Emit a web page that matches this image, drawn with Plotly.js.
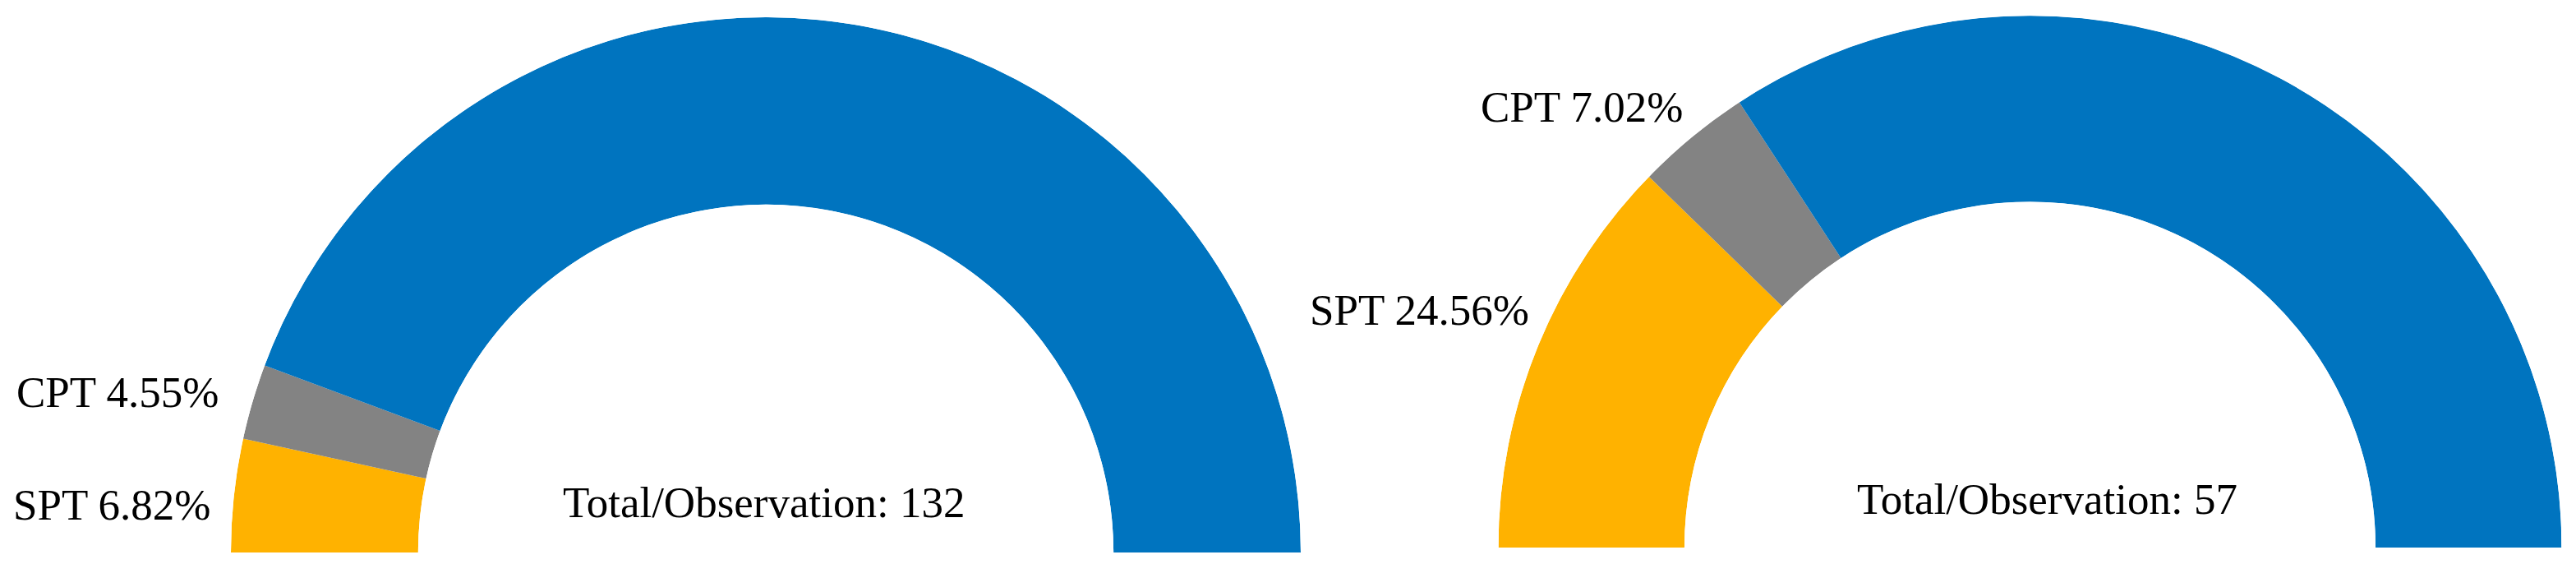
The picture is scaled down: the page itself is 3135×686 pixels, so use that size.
<!DOCTYPE html>
<html>
<head>
<meta charset="utf-8">
<script src="https://cdn.plot.ly/plotly-3.0.1.min.js"></script>
<style>
  html, body { margin: 0; padding: 0; background: #fff; }
  #chart { width: 3135px; height: 686px; }
</style>
</head>
<body>
<div id="chart"></div>
<script>
// ---- data ----
const categories = ["SPT", "CPT", "Other"];
const leftValues = [6.82, 4.55, 88.63];
const rightValues = [24.56, 7.02, 68.42];
const leftTotal = 132;
const rightTotal = 57;
const totalLabel = "Total/Observation: ";

// ---- style ----
const colors = ["#FFB200", "#838383", "#0074BF"];
const W = 3135, H = 686;
const FONT = { family: "Liberation Serif, 'Times New Roman', serif", size: 53, color: "#000" };

function halfDonut(values, subplot) {
  const theta = [], width = [];
  let start = 0;
  values.forEach(v => {
    const w = v * 180 / 100;
    theta.push(start + w / 2);
    width.push(w);
    start += w;
  });
  return {
    type: "barpolar",
    subplot: subplot,
    r: values.map(() => 1),
    theta: theta,
    width: width,
    text: categories,
    marker: { color: colors, line: { width: 0 } },
    hoverinfo: "text",
    showlegend: false
  };
}

function polarLayout(x0, x1, yTop, yBottom) {
  return {
    domain: { x: [x0 / W, x1 / W], y: [(H - yBottom) / H, (H - yTop) / H] },
    sector: [0, 180],
    hole: 0.65,
    bgcolor: "rgba(0,0,0,0)",
    radialaxis: { visible: false, range: [0, 1], showgrid: false, showline: false, showticklabels: false, ticks: "" },
    angularaxis: { visible: false, rotation: 180, direction: "clockwise", showgrid: false, showline: false, showticklabels: false, ticks: "" }
  };
}

function label(text, xpx, ypx, anchor) {
  return {
    text: text, xref: "paper", yref: "paper",
    x: xpx / W, y: (H - ypx) / H,
    xanchor: anchor, yanchor: "middle",
    showarrow: false, font: FONT
  };
}

const fmt = (i, vals) => categories[i] + " " + vals[i].toFixed(2) + "%";

const data = [halfDonut(leftValues, "polar"), halfDonut(rightValues, "polar2")];

const layout = {
  width: W, height: H,
  margin: { l: 0, r: 0, t: 0, b: 0, pad: 0 },
  paper_bgcolor: "#fff",
  plot_bgcolor: "#fff",
  showlegend: false,
  polar: polarLayout(281, 1583, 21, 672),
  polar2: polarLayout(1823, 3118, 19, 666),
  annotations: [
    label(fmt(1, leftValues), 18, 477, "left"),
    label(fmt(0, leftValues), 14, 614, "left"),
    label(totalLabel + leftTotal, 929, 611, "center"),
    label(fmt(1, rightValues), 1800, 130, "left"),
    label(fmt(0, rightValues), 1592, 377, "left"),
    label(totalLabel + rightTotal, 2491, 607, "center")
  ]
};

Plotly.newPlot("chart", data, layout, { displayModeBar: false, staticPlot: true });
</script>
</body>
</html>
